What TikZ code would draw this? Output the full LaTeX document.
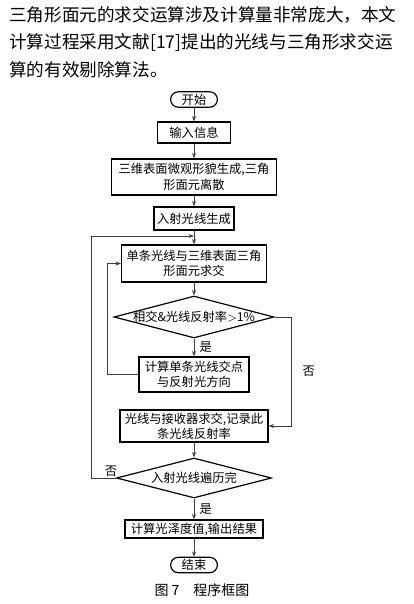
\documentclass[tikz,border=0pt]{standalone}
\usepackage{fontspec}
\setmainfont{Noto Sans CJK SC}
\usepackage{tikz}
\usetikzlibrary{arrows.meta, calc, shapes.geometric}

\begin{document}
\begin{tikzpicture}[x=0.75pt, y=-0.75pt,
    para/.style={font=\fontsize{13.2pt}{16pt}\selectfont, inner sep=0pt, anchor=west},
    box/.style={draw, line width=0.9pt, align=center, inner sep=0pt,
        font=\fontsize{9.2pt}{11.5pt}\selectfont},
    term/.style={box, rounded corners=5.6pt, minimum width=35pt, minimum height=11.5pt},
    test/.style={box, diamond, aspect=3.8, inner sep=-1pt},
    flow/.style={draw=black!75, line width=0.5pt, -{Stealth[length=4pt, width=3pt]}},
    lbl/.style={font=\fontsize{9.2pt}{11pt}\selectfont, inner sep=0pt}]
    \useasboundingbox (0,0) rectangle (414,604);
    \def\ax{194}% flow axis

    % text above the chart
    \node[para] (p1) at (9,15) {三角形面元的求交运算涉及计算量非常庞大，本文};
    \node[para] (p2) at (9,43) {计算过程采用文献[17]提出的光线与三角形求交运};
    \node[para] (p3) at (9,70) {算的有效剔除算法。};

    \node[term] (start) at (\ax,99.5) {开始};
    \node[box, minimum width=54.75pt, minimum height=15.75pt] (input) at (\ax,132.5) {输入信息};
    \node[box, minimum width=123.75pt, minimum height=27pt] (mesh) at (\ax,177) {三维表面微观形貌生成,三角\\形面元离散};
    \node[box, minimum width=60pt, minimum height=17.25pt] (ray) at (\ax,218.5) {入射光线生成};
    \node[box, minimum width=108.75pt, minimum height=27.75pt] (hit) at (\ax,263.5) {单条光线与三维表面三角\\形面元求交};
    \node[test, minimum width=120pt, minimum height=31.5pt] (cond) at (\ax,317) {相交\&光线反射率$>$1\%};
    \node[box, minimum width=82.5pt, minimum height=26.25pt] (refl) at (\ax,374.5) {计算单条光线交点\\与反射光方向};
    \node[box, minimum width=111pt, minimum height=24pt] (recv) at (\ax,426) {光线与接收器求交,记录此\\条光线反射率};
    \node[test, minimum width=116.25pt, minimum height=30pt] (done) at (\ax,478) {入射光线遍历完};
    \node[box, minimum width=103.5pt, minimum height=13.5pt] (res) at (\ax,529) {计算光泽度值,输出结果};
    \node[term] (stop) at (\ax,565) {结束};
    \node[lbl, font=\fontsize{10.5pt}{12pt}\selectfont] (cap) at (202,590) {图 7\hspace{1em}程序框图};

    % straight steps
    \foreach \a/\b in {start/input, input/mesh, mesh/ray, ray/hit, hit/cond, recv/done, res/stop}
        \draw[flow] (\a) -- (\b);
    \draw[flow] (cond) -- node[lbl, anchor=west, xshift=4pt] {是} (refl);
    \draw[flow] (done) -- node[lbl, anchor=west, xshift=4pt] {是} (res);

    % loops
    \coordinate (join) at (\ax,236);
    \draw[flow] (refl.west) -- ++(-31,0) |- (hit.west);
    \draw[flow] (cond.east) -- ++(17,0) |- node[lbl, pos=0.25, right=8pt] {否} (recv.east);
    \draw[flow] (done.west) -- node[lbl, above=1pt, pos=0.2] {否} ++(-25,0) |- (join);
\end{tikzpicture}
\end{document}
